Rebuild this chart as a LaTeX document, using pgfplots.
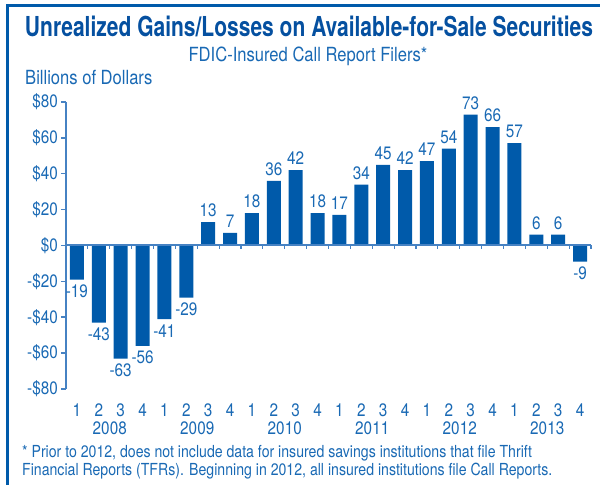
\documentclass[border=0pt]{standalone}
\usepackage{fontspec}
\setmainfont{TeX Gyre Heros}[FakeStretch=0.85]
\usepackage{graphicx}
\usepackage{pgfplots}
\pgfplotsset{compat=1.18}
\definecolor{barblue}{RGB}{0,90,170}
\definecolor{txtblue}{RGB}{25,105,180}
\definecolor{ttlblue}{RGB}{5,80,160}
\definecolor{axblue}{RGB}{70,130,195}
\newcommand\lbl{\fontsize{18}{21}\selectfont}
\begin{document}
\begin{tikzpicture}
\useasboundingbox (0,0) rectangle (600pt,485pt);
\fill[barblue] (6pt,0) rectangle (9pt,481pt);
\fill[barblue] (6pt,478pt) rectangle (600pt,481pt);
\node[text=ttlblue, font=\fontsize{27.5}{32}\selectfont\bfseries, anchor=base, inner sep=0pt] at (309pt,448pt) {\resizebox{568pt}{\height}{Unrealized Gains/Losses on Available-for-Sale Securities}};
\node[text=txtblue, font=\fontsize{19.5}{23}\selectfont, anchor=base, inner sep=0pt] at (308pt,423pt) {FDIC-Insured Call Report Filers*};
\node[text=txtblue, font=\fontsize{19.5}{23}\selectfont, anchor=base west, inner sep=0pt] at (25pt,400pt) {Billions of Dollars};
\node[text=txtblue, font=\fontsize{16.6}{20}\selectfont, anchor=base west, inner sep=0pt] at (22pt,28pt) {* Prior to 2012, does not include data for insured savings institutions that file Thrift};
\node[text=txtblue, font=\fontsize{16.6}{20}\selectfont, anchor=base west, inner sep=0pt] at (22pt,10pt) {Financial Reports (TFRs). Beginning in 2012, all insured institutions file Call Reports.};
\begin{axis}[
  at={(66pt,96pt)}, anchor=south west,
  scale only axis, width=525pt, height=287pt,
  xmin=-0.5, xmax=23.5, ymin=-80, ymax=80,
  axis y line*=left, axis x line*=bottom,
  x axis line style={draw=none},
  y axis line style={draw=axblue, line width=2.5pt},
  xtick={0,...,23},
  xticklabels={1,2,3,4,1,2,3,4,1,2,3,4,1,2,3,4,1,2,3,4,1,2,3,4},
  xtick style={draw=none},
  ytick={-80,-60,...,80},
  yticklabels={-\$80,-\$60,-\$40,-\$20,\$0,\$20,\$40,\$60,\$80},
  ytick style={draw=axblue, line width=1.5pt},
  major tick length=5pt, tick align=outside,
  xticklabel style={font=\lbl, text=txtblue, inner sep=0pt, yshift=-10pt},
  yticklabel style={font=\lbl, text=txtblue, inner sep=0pt, xshift=-3pt},
  /pgf/number format/assume math mode=true,
  ybar, bar width=14pt,
  nodes near coords,
  nodes near coords style={font=\lbl, text=txtblue, inner sep=5pt},
  clip=false,
]
\addplot[fill=barblue, draw=none, bar shift=0pt] coordinates {
(0,-19) (1,-43) (2,-63) (3,-56) (4,-41) (5,-29) (6,13) (7,7)
(8,18) (9,36) (10,42) (11,18) (12,17) (13,34) (14,45) (15,42)
(16,47) (17,54) (18,73) (19,66) (20,57) (21,6) (22,6) (23,-9)};
\draw[axblue, line width=2pt] (axis cs:-0.5,0) -- (axis cs:23.5,0);
\pgfplotsinvokeforeach{0.5,1.5,2.5,3.5,4.5,5.5,6.5,7.5,8.5,9.5,10.5,11.5,12.5,13.5,14.5,15.5,16.5,17.5,18.5,19.5,20.5,21.5,22.5,23.5}{\draw[axblue, line width=1.2pt] (axis cs:#1,0) -- ([yshift=-4pt]axis cs:#1,0);}
\node[text=txtblue, font=\lbl, anchor=base] at (axis cs:1.5,-80) [yshift=-45pt] {2008};
\node[text=txtblue, font=\lbl, anchor=base] at (axis cs:5.5,-80) [yshift=-45pt] {2009};
\node[text=txtblue, font=\lbl, anchor=base] at (axis cs:9.5,-80) [yshift=-45pt] {2010};
\node[text=txtblue, font=\lbl, anchor=base] at (axis cs:13.5,-80) [yshift=-45pt] {2011};
\node[text=txtblue, font=\lbl, anchor=base] at (axis cs:17.5,-80) [yshift=-45pt] {2012};
\node[text=txtblue, font=\lbl, anchor=base] at (axis cs:21.5,-80) [yshift=-45pt] {2013};
\end{axis}
\end{tikzpicture}
\end{document}
